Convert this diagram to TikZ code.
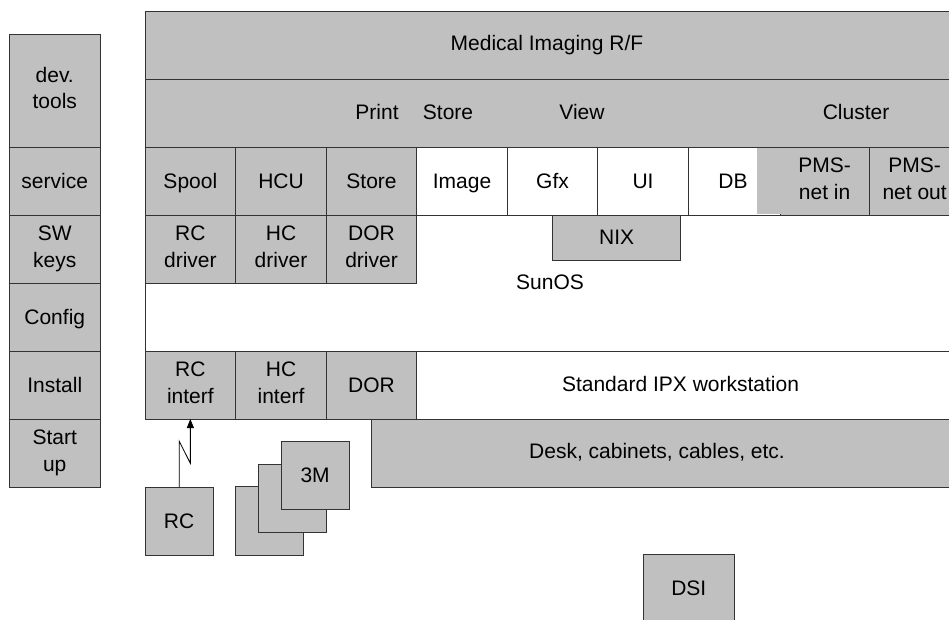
\documentclass[tikz,border=0pt]{standalone}
\usepackage{fontspec}
\setmainfont{Liberation Sans}
\usetikzlibrary{arrows.meta,calc}

% A layer cell given by its corner coordinates (x1,y1)-(x2,y2), y growing downwards
\newcommand\layerbox[7][]{%
  \node[cell,#1,minimum width={(#5-#3)*1pt},minimum height={(#6-#4)*1pt}]
    (#2) at ({(#3+#5)/2},{(#4+#6)/2}) {#7};}
% fixed line height and depth, so every label sits on the same baseline
\newcommand\topstrut{\rule{0pt}{19pt}}
\newcommand\botstrut{\rule[-5pt]{0pt}{5pt}}

\begin{document}
\begin{tikzpicture}[x=1pt,y=-1pt,
  cell/.style={draw=black!80,line width=0.9pt,fill=layergray,inner sep=0pt,outer sep=0pt,
               align=center,font=\fontsize{21}{26.5}\selectfont,
               execute at begin node=\topstrut,execute at end node=\botstrut},
  plain/.style={fill=white},
  txt/.style={inner sep=0pt,align=center,font=\fontsize{21}{26}\selectfont},
  rule/.style={draw=black!80,line width=0.9pt}]
\definecolor{layergray}{HTML}{C0C0C0}
\useasboundingbox (0,0) rectangle (949,619);
\clip (0,0) rectangle (949,619);

% tool column on the left
\layerbox{devtools}{9.5}{34}{100}{147}{dev.\\tools}
\layerbox{service}{9.5}{147}{100}{215}{service}
\layerbox{swkeys}{9.5}{215}{100}{283}{SW\\keys}
\layerbox{config}{9.5}{283}{100}{351}{Config}
\layerbox{install}{9.5}{351}{100}{419}{Install}
\layerbox{startup}{9.5}{419}{100}{487}{Start\\up}

% application layers
\layerbox{app}{145}{11.5}{960}{79}{}
\node[txt] (apptxt) at (547,45) {Medical Imaging R/F};
\layerbox{func}{145}{79}{960}{147}{}
\node[txt] (print) at (377,112) {Print};
\node[txt] (store) at (448,112) {Store};
\node[txt] (view) at (582,112) {View};
\node[txt] (cluster) at (856,112) {Cluster};

% modules
\layerbox{spool}{145}{147}{235.7}{215}{Spool}
\layerbox{hcu}{235.7}{147}{326.3}{215}{HCU}
\layerbox{storem}{326.3}{147}{416.7}{215}{Store}
\layerbox[plain]{image}{416.7}{147}{507.3}{215}{Image}
\layerbox[plain]{gfx}{507.3}{147}{597.7}{215}{Gfx}
\layerbox[plain]{ui}{597.7}{147}{688.3}{215}{UI}
\layerbox[plain]{db}{688.3}{147}{780}{215}{}
\layerbox{pmsin}{780}{147}{869.3}{215}{PMS-\\net in}
\layerbox{pmsout}{869.3}{147}{960}{215}{PMS-\\net out}
% the cluster band reaches down past the DB cell, with no border between
\fill[layergray] (756.7,147.5) rectangle (780.5,213.5);
\node[txt] (dbtxt) at (733,181) {DB};
\draw[rule] (688.3,215) -- (869.3,215);

% drivers and operating system
\layerbox{rcdrv}{145}{215}{235.7}{283}{RC\\driver}
\layerbox{hcdrv}{235.7}{215}{326.3}{283}{HC\\driver}
\layerbox{dordrv}{326.3}{215}{416.7}{283}{DOR\\driver}
\layerbox{nix}{552.7}{215}{680.7}{260}{NIX}
\node[txt] (sunos) at (550,282) {SunOS};
\draw[rule] (145,283) -- (145,351) -- (960,351);

% interfaces and hardware
\layerbox{rcif}{145}{351}{235.7}{419}{RC\\interf}
\layerbox{hcif}{235.7}{351}{326.3}{419}{HC\\interf}
\layerbox{dor}{326.3}{351}{416.7}{419}{DOR}
\node[txt] (ipx) at (680.5,384) {Standard IPX workstation};
\layerbox{desk}{371.7}{419}{960}{487}{}
\node[txt] (desktxt) at (657,452) {Desk, cabinets, cables, etc.};

% external devices
\layerbox{rc}{145}{487}{213.3}{555}{RC}
\layerbox{film1}{235.7}{486.7}{303.7}{555}{}
\layerbox{film2}{258.3}{464}{326.7}{532}{}
\layerbox{film3}{281}{441.3}{349.3}{509.3}{3M}
\layerbox{dsi}{643.3}{554.3}{734.3}{622}{DSI}

% remote control link
\draw[line width=0.8pt,-{Triangle[length=9pt,width=7pt]}]
  (rc.north) -- ++(0,-46) -- ($(rcif.south)+(0,44.3)$) -- (rcif.south);
\end{tikzpicture}
\end{document}
